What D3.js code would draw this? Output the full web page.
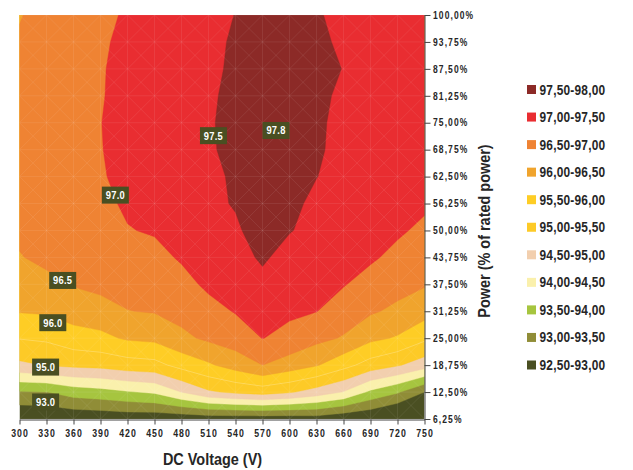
<!DOCTYPE html>
<html>
<head>
<meta charset="utf-8">
<script src="https://cdn.jsdelivr.net/npm/d3@7"></script>
<style>
  html, body { margin: 0; padding: 0; background: #ffffff; }
  svg text { font-family: "Liberation Sans", Arial, sans-serif; font-weight: bold; fill: #262626; }
</style>
</head>
<body>
<svg id="chart" width="633" height="470"></svg>
<script>
// ---- data ----
const voltages = [300, 330, 360, 390, 420, 450, 480, 510, 540, 570, 600, 630, 660, 690, 720, 750];
const powers = [6.25, 12.5, 18.75, 25, 31.25, 37.5, 43.75, 50, 56.25, 62.5, 68.75, 75, 81.25, 87.5, 93.75, 100];
const powerTickLabels = ["6,25%", "12,50%", "18,75%", "25,00%", "31,25%", "37,50%", "43,75%", "50,00%",
  "56,25%", "62,50%", "68,75%", "75,00%", "81,25%", "87,50%", "93,75%", "100,00%"];

// efficiency (%) per voltage column, values listed from 6.25% to 100% power
const eff300 = [92.50, 93.46, 94.90, 95.52, 96.03, 96.25, 96.47, 96.60, 96.65, 96.70, 96.72, 96.72, 96.70, 96.65, 96.60, 96.45];
const eff330 = [92.52, 93.49, 95.02, 95.58, 96.06, 96.35, 96.63, 96.70, 96.75, 96.78, 96.80, 96.80, 96.80, 96.80, 96.80, 96.80];
const eff360 = [92.59, 93.73, 95.11, 95.79, 96.22, 96.53, 96.65, 96.75, 96.82, 96.85, 96.87, 96.88, 96.88, 96.87, 96.86, 96.85];
const eff390 = [92.62, 93.82, 95.15, 95.88, 96.29, 96.64, 96.75, 96.85, 96.90, 96.93, 96.96, 96.98, 96.96, 96.95, 96.93, 96.90];
const eff420 = [92.66, 93.96, 95.28, 96.06, 96.49, 96.65, 96.82, 96.98, 97.06, 97.22, 97.36, 97.38, 97.20, 97.19, 97.12, 97.05];
const eff450 = [92.65, 94.07, 95.34, 96.12, 96.53, 96.70, 96.87, 97.04, 97.20, 97.30, 97.35, 97.38, 97.35, 97.30, 97.25, 97.20];
const eff480 = [92.66, 94.51, 95.67, 96.39, 96.66, 96.85, 97.05, 97.20, 97.30, 97.38, 97.42, 97.44, 97.42, 97.40, 97.38, 97.30];
const eff510 = [92.70, 94.93, 95.93, 96.59, 96.84, 97.09, 97.25, 97.35, 97.38, 97.40, 97.42, 97.44, 97.42, 97.40, 97.38, 97.35];
const eff540 = [92.71, 95.10, 96.22, 96.74, 97.03, 97.16, 97.29, 97.42, 97.54, 97.56, 97.68, 97.68, 97.64, 97.58, 97.56, 97.51];
const eff570 = [92.71, 95.22, 96.50, 97.01, 97.17, 97.34, 97.58, 97.75, 97.80, 97.82, 97.85, 97.85, 97.85, 97.85, 97.82, 97.80];
const eff600 = [92.71, 95.06, 96.27, 96.86, 97.08, 97.18, 97.29, 97.53, 97.62, 97.68, 97.72, 97.75, 97.75, 97.75, 97.72, 97.70];
const eff630 = [92.76, 94.79, 96.04, 96.63, 97.01, 97.12, 97.22, 97.33, 97.39, 97.51, 97.56, 97.58, 97.60, 97.62, 97.60, 97.56];
const eff660 = [92.59, 94.48, 95.67, 96.46, 96.76, 97.03, 97.15, 97.22, 97.28, 97.33, 97.37, 97.37, 97.42, 97.49, 97.42, 97.33];
const eff690 = [92.51, 93.90, 95.29, 96.12, 96.56, 96.81, 97.07, 97.15, 97.20, 97.25, 97.28, 97.30, 97.32, 97.32, 97.30, 97.27];
const eff720 = [92.22, 93.56, 95.05, 95.95, 96.40, 96.66, 96.87, 97.07, 97.15, 97.20, 97.22, 97.24, 97.25, 97.25, 97.24, 97.22];
const eff750 = [92.00, 93.00, 94.73, 95.60, 96.20, 96.54, 96.72, 96.90, 97.08, 97.12, 97.15, 97.17, 97.18, 97.18, 97.17, 97.15];
const efficiencyByVoltage = [eff300, eff330, eff360, eff390, eff420, eff450, eff480, eff510,
  eff540, eff570, eff600, eff630, eff660, eff690, eff720, eff750];

// bands (lower bound, label, colour) from lowest to highest
const bandLower = [92.5, 93.0, 93.5, 94.0, 94.5, 95.0, 95.5, 96.0, 96.5, 97.0, 97.5];
const bandLabels = ["92,50-93,00", "93,00-93,50", "93,50-94,00", "94,00-94,50", "94,50-95,00", "95,00-95,50",
  "95,50-96,00", "96,00-96,50", "96,50-97,00", "97,00-97,50", "97,50-98,00"];
const bandColors = ["#4a4f22", "#908d37", "#a6c53f", "#faf0ac", "#f2cfae", "#fdca27",
  "#fecd25", "#f0a42d", "#ef8333", "#e92d31", "#8c2a27"];

// contour labels: text, voltage, power
const labelText = ["97.5", "97.8", "97.0", "96.5", "96.0", "95.0", "93.0"];
const labelVoltage = [515.5, 585, 406.5, 348, 337, 329, 329];
const labelPower = [72.0, 73.2, 58.2, 38.4, 28.6, 18.3, 10.2];

// ---- drawing ----
const SX = 0.85; // condensed look
const svg = d3.select("#chart");
const x = d3.scaleLinear().domain([300, 750]).range([19.5, 424.5]);
const y = d3.scaleLinear().domain([6.25, 100]).range([419, 15]);

function ctext(g, tx, ty, str, size) {
  return g.append("text").attr("transform", `translate(${tx},${ty}) scale(${SX},1)`)
    .attr("font-size", size).text(str);
}

const nx = voltages.length, ny = powers.length;
// grid index -> data coords (d3.contours places sample i at i+0.5)
const gx = d3.scaleLinear().domain([0.5, nx - 0.5]).range([voltages[0], voltages[nx - 1]]);
const gy = d3.scaleLinear().domain([0.5, ny - 0.5]).range([powers[0], powers[ny - 1]]);

const values = new Array(nx * ny);
for (let j = 0; j < ny; j++)
  for (let i = 0; i < nx; i++)
    values[j * nx + i] = efficiencyByVoltage[i][j];

const proj = d3.geoTransform({
  point: function(px, py) { this.stream.point(x(gx(px)), y(gy(py))); }
});
const path = d3.geoPath(proj);

svg.append("defs").append("clipPath").attr("id", "plotclip")
  .append("rect")
  .attr("x", x(300)).attr("y", y(100))
  .attr("width", x(750) - x(300)).attr("height", y(6.25) - y(100));

const plot = svg.append("g").attr("clip-path", "url(#plotclip)");
plot.append("rect")
  .attr("x", x(300)).attr("y", y(100))
  .attr("width", x(750) - x(300)).attr("height", y(6.25) - y(100))
  .attr("fill", bandColors[0]);

const contours = d3.contours().size([nx, ny]).thresholds(bandLower.slice(1))(values);
plot.selectAll("path.band").data(contours).join("path")
  .attr("class", "band")
  .attr("d", path)
  .attr("fill", d => bandColors[bandLower.indexOf(d.value)])
  .attr("stroke", d => bandColors[bandLower.indexOf(d.value)])
  .attr("stroke-width", 0.4);

// faint seam between the two yellow bands
plot.append("path")
  .attr("d", path(contours.find(c => c.value === 95.5)))
  .attr("fill", "none").attr("stroke", "#ffffff").attr("stroke-opacity", 0.3).attr("stroke-width", 0.8);

// faint surface mesh
const mesh = plot.append("g").attr("stroke", "#ffffff").attr("stroke-opacity", 0.1).attr("stroke-width", 0.8);
voltages.forEach(v => mesh.append("line")
  .attr("x1", x(v)).attr("x2", x(v)).attr("y1", y(powers[0])).attr("y2", y(powers[ny - 1])));
powers.forEach(p => mesh.append("line")
  .attr("x1", x(voltages[0])).attr("x2", x(voltages[nx - 1])).attr("y1", y(p)).attr("y2", y(p)));
for (let i = 0; i < nx - 1; i++) {
  for (let j = 0; j < ny - 1; j++) {
    mesh.append("line").attr("x1", x(voltages[i])).attr("y1", y(powers[j]))
      .attr("x2", x(voltages[i + 1])).attr("y2", y(powers[j + 1]));
    mesh.append("line").attr("x1", x(voltages[i + 1])).attr("y1", y(powers[j]))
      .attr("x2", x(voltages[i])).attr("y2", y(powers[j + 1]));
  }
}

// axes
const xAxis = d3.axisBottom(x).tickValues(voltages).tickSize(5).tickSizeOuter(0).tickPadding(5.5);
const gxA = svg.append("g").attr("transform", `translate(0,${y(6.25) + 0.5})`).call(xAxis);
gxA.attr("font-family", null).attr("font-size", null);
gxA.select(".domain").attr("stroke", "#444");
gxA.selectAll(".tick line").attr("stroke", "#444");
gxA.selectAll(".tick text").attr("font-size", 10.3).attr("letter-spacing", 1.2)
  .attr("transform", `scale(${SX},1)`).attr("fill", "#262626");

const yAxis = d3.axisRight(y).tickValues(powers).tickSize(6).tickSizeOuter(0).tickPadding(4)
  .tickFormat((d, i) => powerTickLabels[i]);
const gyA = svg.append("g").attr("transform", `translate(${x(750)},0)`).call(yAxis);
gyA.attr("font-family", null).attr("font-size", null);
gyA.select(".domain").attr("stroke", "#444");
gyA.selectAll(".tick line").attr("stroke", "#444");
gyA.selectAll(".tick text").attr("font-size", 10).attr("letter-spacing", 1.3)
  .attr("transform", `scale(${SX},1)`).attr("fill", "#262626");

// titles
ctext(svg, 212.5, 465, "DC Voltage (V)", 17).attr("text-anchor", "middle");
svg.append("text").attr("transform", `translate(490,231) rotate(-90) scale(${SX},1)`)
  .attr("text-anchor", "middle").attr("font-size", 17).text("Power (% of rated power)");

// legend (highest band first)
const legend = svg.append("g");
const order = d3.range(bandLower.length).reverse();
order.forEach((bi, k) => {
  const cy = 89.5 + k * 27.55;
  legend.append("rect").attr("x", 527).attr("y", cy - 4.5).attr("width", 9).attr("height", 9)
    .attr("fill", bandColors[bi]);
  ctext(legend, 539.5, cy + 5, bandLabels[bi], 14).attr("letter-spacing", 0.25);
});

// contour value labels
const lab = svg.append("g");
labelText.forEach((t, k) => {
  const cx = x(labelVoltage[k]), cy = y(labelPower[k]);
  lab.append("rect").attr("x", cx - 13.5).attr("y", cy - 8.5).attr("width", 27).attr("height", 17)
    .attr("fill", "#4a4f22");
  ctext(lab, cx, cy + 4, t, 11).attr("text-anchor", "middle").attr("letter-spacing", 0.3)
    .style("fill", "#ffffff");
});
</script>
</body>
</html>
